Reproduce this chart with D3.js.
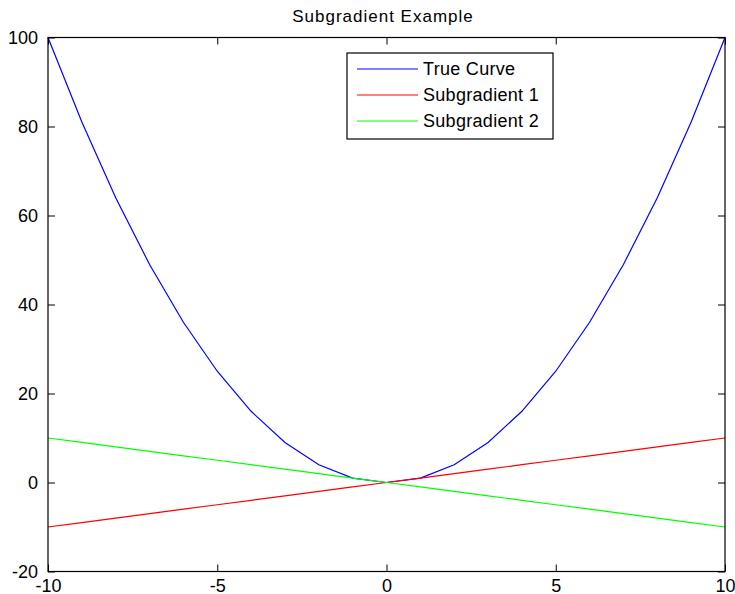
<!DOCTYPE html>
<html>
<head>
<meta charset="utf-8">
<script src="https://cdn.jsdelivr.net/npm/d3@7"></script>
<style>
  body { margin: 0; background: #fff; }
  text { font-family: "Liberation Sans", Arial, sans-serif; fill: #000; }
</style>
</head>
<body>
<div id="run"></div>
<script>
// data
var xs = [-10,-9,-8,-7,-6,-5,-4,-3,-2,-1,0,1,2,3,4,5,6,7,8,9,10];
var trueCurve = [100,81,64,49,36,25,16,9,4,1,0,1,4,9,16,25,36,49,64,81,100];
var sub1 = [-10,-9,-8,-7,-6,-5,-4,-3,-2,-1,0,1,2,3,4,5,6,7,8,9,10];
var sub2 = [10,9,8,7,6,5,4,3,2,1,0,-1,-2,-3,-4,-5,-6,-7,-8,-9,-10];
var seriesNames = ["True Curve", "Subgradient 1", "Subgradient 2"];
var seriesColors = ["#0000ff", "#ff0000", "#00ff00"];
var xTicks = [-10,-5,0,5,10];
var yTicks = [-20,0,20,40,60,80,100];

var width = 735, height = 594;
var mLeft = 48, mRight = 725, mTop = 37.5, mBottom = 571.5;

var svg = d3.select("#run").append("svg")
    .attr("width", width)
    .attr("height", height);

var x = d3.scaleLinear().domain([-10, 10]).range([mLeft, mRight]);
var y = d3.scaleLinear().domain([-20, 100]).range([mBottom, mTop]);

function plain(d) { return String(d); }

// title
svg.append("text")
    .attr("x", 383)
    .attr("y", 22)
    .attr("text-anchor", "middle")
    .style("font-size", "17px")
    .style("letter-spacing", "1px")
    .text("Subgradient Example");

// lines
var series = [trueCurve, sub1, sub2];
var line = d3.line()
    .x(function(d, i) { return x(xs[i]); })
    .y(function(d) { return y(d); });

var plot = svg.append("g");
series.forEach(function(s, k) {
    plot.append("path")
        .datum(s)
        .attr("d", line)
        .attr("fill", "none")
        .attr("stroke", seriesColors[k])
        .attr("stroke-width", 1.2);
});

// axes, MATLAB style: ticks inward on all four sides
var tickLen = 7;
svg.append("g")
    .attr("transform", "translate(0," + mBottom + ")")
    .call(d3.axisBottom(x).tickValues(xTicks).tickSize(-tickLen).tickPadding(8).tickFormat(plain))
    .call(function(g) { g.select(".domain").remove(); })
    .selectAll("text").style("font-size", "18px");

svg.append("g")
    .attr("transform", "translate(" + mLeft + ",0)")
    .call(d3.axisLeft(y).tickValues(yTicks).tickSize(-tickLen).tickPadding(10).tickFormat(plain))
    .call(function(g) { g.select(".domain").remove(); })
    .selectAll("text").style("font-size", "18px");

svg.append("g")
    .attr("transform", "translate(0," + mTop + ")")
    .call(d3.axisTop(x).tickValues(xTicks).tickSize(-tickLen).tickFormat(""))
    .call(function(g) { g.select(".domain").remove(); });

svg.append("g")
    .attr("transform", "translate(" + mRight + ",0)")
    .call(d3.axisRight(y).tickValues(yTicks).tickSize(-tickLen).tickFormat(""))
    .call(function(g) { g.select(".domain").remove(); });

svg.selectAll(".tick line").attr("stroke", "#000");

svg.append("rect")
    .attr("x", mLeft)
    .attr("y", mTop)
    .attr("width", mRight - mLeft)
    .attr("height", mBottom - mTop)
    .attr("fill", "none")
    .attr("stroke", "#000")
    .attr("stroke-width", 1.2);

// legend
var lg = svg.append("g").attr("transform", "translate(347,53)");
lg.append("rect")
    .attr("width", 206)
    .attr("height", 86)
    .attr("fill", "#fff")
    .attr("stroke", "#000")
    .attr("stroke-width", 1.2);

seriesNames.forEach(function(name, k) {
    var yy = 16 + k * 26;
    lg.append("line")
        .attr("x1", 10).attr("x2", 71)
        .attr("y1", yy).attr("y2", yy)
        .attr("stroke", seriesColors[k])
        .attr("stroke-width", 1.2);
    lg.append("text")
        .attr("x", 76)
        .attr("y", yy)
        .attr("dy", "0.35em")
        .style("font-size", "18px")
        .style("letter-spacing", "0.3px")
        .text(name);
});
</script>
</body>
</html>
